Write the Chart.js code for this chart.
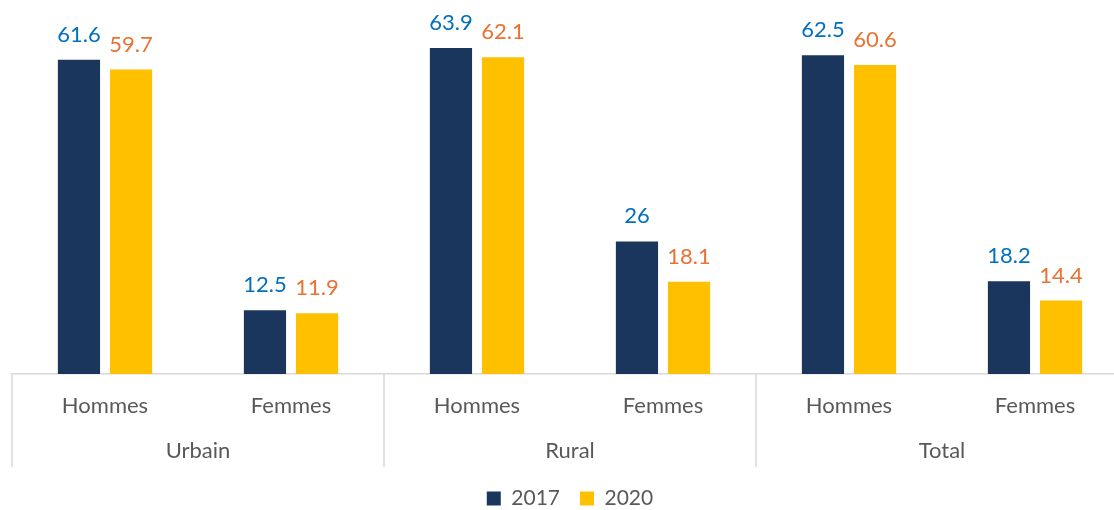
<!DOCTYPE html>
<html lang="fr">
<head>
    <meta charset="UTF-8">
    <title>Hommes / Femmes 2017-2020</title>
    <style>
        body{
            margin: 0;
            overflow: hidden;
            background: #ffffff;
        }
        #wrap{
            position: relative;
            width: 1140px;
            height: 510px;
        }
    </style>
</head>
<body>
    <div id="wrap">
        <canvas id="grafik"></canvas>
    </div>

    <script src="https://cdn.jsdelivr.net/npm/chart.js"></script>

    <script>
        const kategori = ["Hommes", "Femmes", "Hommes", "Femmes", "Hommes", "Femmes"]
        const grup = ["Urbain", "Rural", "Total"]
        const nilai2017 = [61.6, 12.5, 63.9, 26, 62.5, 18.2]
        const nilai2020 = [59.7, 11.9, 62.1, 18.1, 60.6, 14.4]

        const fontNama = "Lato, 'Open Sans', sans-serif"
        const abu = "#595959"
        const garis = "#D9D9D9"

        // angka di atas batang
        const labelNilai = {
            id: 'labelNilai',
            afterDatasetsDraw(chart){
                const ctx = chart.ctx
                ctx.save()
                ctx.font = "22px " + fontNama
                ctx.textAlign = "center"
                ctx.textBaseline = "alphabetic"
                chart.data.datasets.forEach((ds, i) => {
                    const meta = chart.getDatasetMeta(i)
                    meta.data.forEach((bar, j) => {
                        ctx.fillStyle = ds.warnaLabel
                        ctx.fillText(String(ds.data[j]), bar.x, bar.y - 18)
                    })
                })
                ctx.restore()
            }
        }

        // garis pemisah grup di bawah sumbu
        const pemisah = {
            id: 'pemisah',
            afterDraw(chart){
                const ctx = chart.ctx
                const sx = chart.scales.x
                const lebar = sx.getPixelForValue(1) - sx.getPixelForValue(0)
                const atas = chart.chartArea.bottom
                const bawah = chart.scales.x2.bottom - 1
                ctx.save()
                ctx.strokeStyle = garis
                ctx.lineWidth = 1.5
                for (let i = 0; i <= kategori.length; i += 2) {
                    const px = sx.getPixelForValue(i) - lebar / 2
                    ctx.beginPath()
                    ctx.moveTo(px, atas)
                    ctx.lineTo(px, bawah)
                    ctx.stroke()
                }
                ctx.restore()
            }
        }

        new Chart(document.getElementById('grafik'), {
            type: 'bar',
            data: {
                labels: kategori,
                datasets: [{
                    label: '2017',
                    data: nilai2017,
                    backgroundColor: '#1A365D',
                    warnaLabel: '#0070C0',
                    categoryPercentage: 0.56,
                    barPercentage: 0.81
                }, {
                    label: '2020',
                    data: nilai2020,
                    backgroundColor: '#FFC000',
                    warnaLabel: '#E97132',
                    categoryPercentage: 0.56,
                    barPercentage: 0.81
                }]
            },
            options: {
                responsive: true,
                maintainAspectRatio: false,
                animation: false,
                layout: {
                    padding: { left: 12, right: 12, top: 17, bottom: 0 }
                },
                plugins: {
                    tooltip: { enabled: false },
                    legend: {
                        position: 'bottom',
                        maxHeight: 42,
                        labels: {
                            boxWidth: 14,
                            boxHeight: 14,
                            padding: 20,
                            color: abu,
                            font: { family: fontNama, size: 21 }
                        }
                    }
                },
                scales: {
                    y: {
                        display: false,
                        min: 0,
                        max: 70
                    },
                    x: {
                        grid: { display: false, drawTicks: false },
                        border: { color: garis, width: 1.5 },
                        ticks: {
                            color: abu,
                            padding: 19,
                            font: { family: fontNama, size: 22 }
                        },
                        afterFit(scale){ scale.height = 46 }
                    },
                    x2: {
                        type: 'category',
                        labels: grup,
                        position: 'bottom',
                        offset: true,
                        grid: { display: false, drawTicks: false },
                        border: { display: false },
                        ticks: {
                            color: abu,
                            padding: 18,
                            font: { family: fontNama, size: 22 }
                        },
                        afterFit(scale){ scale.height = 48 }
                    }
                }
            },
            plugins: [labelNilai, pemisah]
        });
    </script>
</body>
</html>
